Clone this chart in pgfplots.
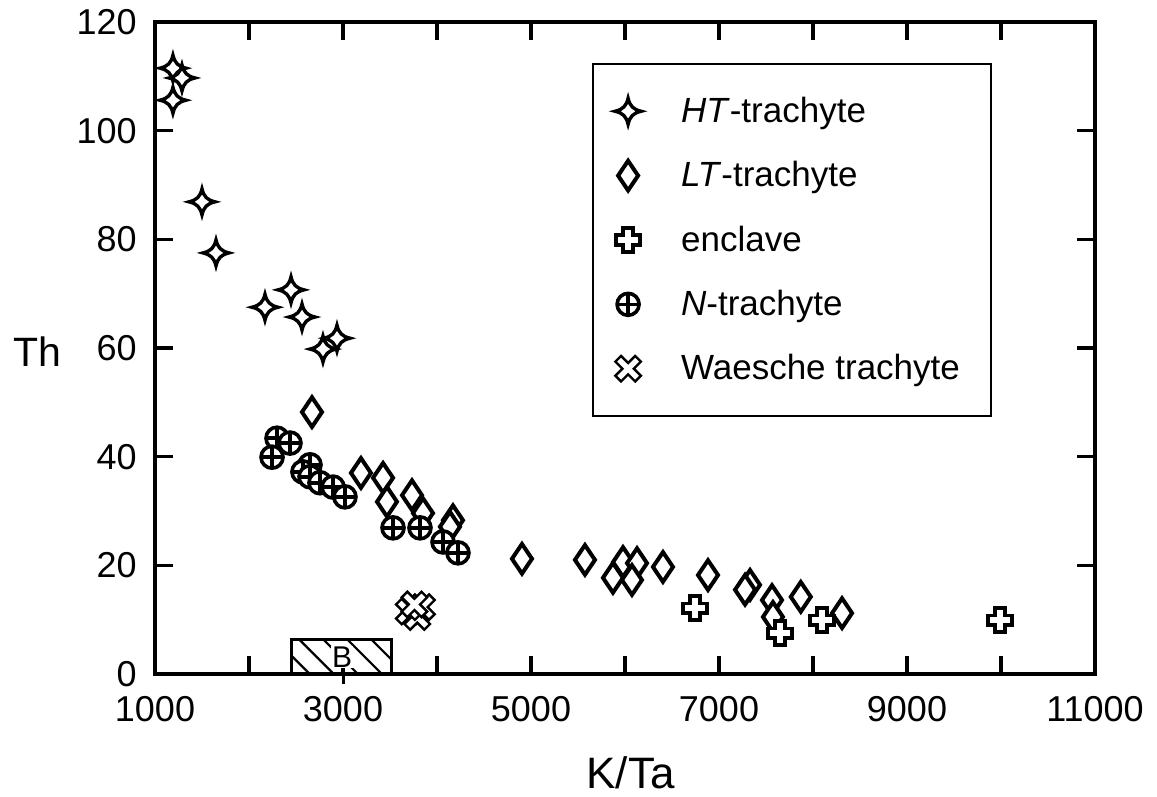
\documentclass[border=0pt]{standalone}
\usepackage{fontspec}
\setmainfont{Liberation Sans}
\usepackage{pgfplots}
\pgfplotsset{compat=1.18}
\usetikzlibrary{patterns.meta}

% 4-point concave star
\pgfdeclareplotmark{star4}{%
  \pgfpathmoveto{\pgfqpoint{0pt}{6.5pt}}%
  \pgfpathcurveto{\pgfqpoint{0.9pt}{2.6pt}}{\pgfqpoint{2.6pt}{0.9pt}}{\pgfqpoint{6.5pt}{0pt}}%
  \pgfpathcurveto{\pgfqpoint{2.6pt}{-0.9pt}}{\pgfqpoint{0.9pt}{-2.6pt}}{\pgfqpoint{0pt}{-6.5pt}}%
  \pgfpathcurveto{\pgfqpoint{-0.9pt}{-2.6pt}}{\pgfqpoint{-2.6pt}{-0.9pt}}{\pgfqpoint{-6.5pt}{0pt}}%
  \pgfpathcurveto{\pgfqpoint{-2.6pt}{0.9pt}}{\pgfqpoint{-0.9pt}{2.6pt}}{\pgfqpoint{0pt}{6.5pt}}%
  \pgfpathclose
  \pgfusepathqfillstroke}
% tall diamond
\pgfdeclareplotmark{tdiamond}{%
  \pgfpathmoveto{\pgfqpoint{0pt}{7.4pt}}%
  \pgfpathlineto{\pgfqpoint{5pt}{0pt}}%
  \pgfpathlineto{\pgfqpoint{0pt}{-7.4pt}}%
  \pgfpathlineto{\pgfqpoint{-5pt}{0pt}}%
  \pgfpathclose
  \pgfusepathqfillstroke}
% hollow plus
\pgfdeclareplotmark{hplus}{%
  \pgfpathmoveto{\pgfqpoint{-2.4pt}{6pt}}%
  \pgfpathlineto{\pgfqpoint{2.4pt}{6pt}}%
  \pgfpathlineto{\pgfqpoint{2.4pt}{2.4pt}}%
  \pgfpathlineto{\pgfqpoint{6pt}{2.4pt}}%
  \pgfpathlineto{\pgfqpoint{6pt}{-2.4pt}}%
  \pgfpathlineto{\pgfqpoint{2.4pt}{-2.4pt}}%
  \pgfpathlineto{\pgfqpoint{2.4pt}{-6pt}}%
  \pgfpathlineto{\pgfqpoint{-2.4pt}{-6pt}}%
  \pgfpathlineto{\pgfqpoint{-2.4pt}{-2.4pt}}%
  \pgfpathlineto{\pgfqpoint{-6pt}{-2.4pt}}%
  \pgfpathlineto{\pgfqpoint{-6pt}{2.4pt}}%
  \pgfpathlineto{\pgfqpoint{-2.4pt}{2.4pt}}%
  \pgfpathclose
  \pgfusepathqfillstroke}
% hollow X
\pgfdeclareplotmark{hx}{%
  \pgftransformrotate{45}%
  \pgfpathmoveto{\pgfqpoint{-2pt}{7pt}}%
  \pgfpathlineto{\pgfqpoint{2pt}{7pt}}%
  \pgfpathlineto{\pgfqpoint{2pt}{2pt}}%
  \pgfpathlineto{\pgfqpoint{7pt}{2pt}}%
  \pgfpathlineto{\pgfqpoint{7pt}{-2pt}}%
  \pgfpathlineto{\pgfqpoint{2pt}{-2pt}}%
  \pgfpathlineto{\pgfqpoint{2pt}{-7pt}}%
  \pgfpathlineto{\pgfqpoint{-2pt}{-7pt}}%
  \pgfpathlineto{\pgfqpoint{-2pt}{-2pt}}%
  \pgfpathlineto{\pgfqpoint{-7pt}{-2pt}}%
  \pgfpathlineto{\pgfqpoint{-7pt}{2pt}}%
  \pgfpathlineto{\pgfqpoint{-2pt}{2pt}}%
  \pgfpathclose
  \pgfusepathqfillstroke}
% circle with plus
\pgfdeclareplotmark{cplus}{%
  \pgfpathcircle{\pgfpointorigin}{5.5pt}%
  \pgfusepathqfillstroke
  \pgfpathmoveto{\pgfqpoint{-5.5pt}{0pt}}\pgfpathlineto{\pgfqpoint{5.5pt}{0pt}}%
  \pgfpathmoveto{\pgfqpoint{0pt}{-5.5pt}}\pgfpathlineto{\pgfqpoint{0pt}{5.5pt}}%
  \pgfusepathqstroke}

\begin{document}
\begin{tikzpicture}
\begin{axis}[
  name=ax,
  scale only axis,
  width=470pt, height=326pt,
  xmin=1000, xmax=11000, ymin=0, ymax=120,
  xtick={1000,3000,...,11000},
  minor xtick={2000,4000,...,10000},
  ytick={0,20,...,120},
  scaled x ticks=false, scaled y ticks=false,
  tick align=inside,
  major tick length=9pt, minor tick length=9pt,
  axis line style={line width=2.2pt},
  every tick/.style={black, line width=1.6pt},
  every minor tick/.style={black, line width=1.6pt},
  /pgf/number format/assume math mode=true,
  /pgf/number format/1000 sep={},
  tick label style={font=\fontsize{18}{21}\selectfont, inner sep=0pt},
  xticklabel style={yshift=-11pt},
  yticklabel style={xshift=-9pt},
  every axis y label/.style={at={(rel axis cs:0,0.494)}, anchor=center, xshift=-59pt, font=\fontsize{20.5}{24}\selectfont},
  every axis x label/.style={at={(rel axis cs:0.506,0)}, anchor=center, yshift=-49.5pt, font=\fontsize{22}{26}\selectfont},
  xlabel={K/Ta}, ylabel={Th},
  clip=false,
  legend style={at={(0.465,0.937)}, anchor=north west, draw=black, line width=1pt,
    font=\fontsize{17.5}{20}\selectfont, inner xsep=11pt, inner ysep=14.5pt,
    row sep=14pt, column sep=18pt, cells={anchor=west}},
  legend cell align=left,
]
\addplot[only marks, mark=star4, mark options={fill=white, draw=black, line width=1.7pt}]
coordinates {(1191,111.5)(1287,109.7)(1191,105.6)(1500,86.9)(1649,77.5)(2447,70.7)(2170,67.5)(2564,65.7)(2787,59.8)(2936,61.8)};
\addlegendentry{\makebox[142pt][l]{\textit{HT}-trachyte}}

\addplot[only marks, mark=tdiamond, mark options={fill=white, draw=black, line width=2pt}]
coordinates {(2670,48.2)(3191,37.0)(3426,36.1)(3468,31.7)(3734,32.9)(3851,29.6)(4170,28.3)(4138,27.1)
(4904,21.2)(5574,21.0)(5979,20.6)(5872,17.7)(6128,20.4)(6074,17.3)(6404,19.7)(6883,18.2)
(7330,16.4)(7277,15.5)(7564,13.6)(7574,10.5)(7870,14.2)(8309,11.2)};
\addlegendentry{\textit{LT}-trachyte}

\addplot[only marks, mark=hplus, mark options={fill=white, draw=black, line width=1.8pt}]
coordinates {(6745,12.1)(7649,7.5)(8096,9.9)(9989,9.9)};
\addlegendentry{enclave}

\addplot[only marks, mark=cplus, mark options={fill=white, draw=black, line width=1.8pt}]
coordinates {(2298,43.4)(2436,42.5)(2245,39.9)(2649,38.5)(2574,37.2)(2649,36.3)(2755,35.2)(2894,34.4)(3021,32.6)
(3532,26.9)(3819,26.9)(4064,24.3)(4223,22.3)};
\addlegendentry{\textit{N}-trachyte}

\addplot[only marks, mark=hx, mark options={fill=white, draw=black, line width=1.2pt}]
coordinates {(3700,11.5)(3790,10.5)(3840,12.3)(3760,12.8)};
\addlegendentry{Waesche trachyte}

\draw[line width=1.5pt, pattern={Lines[angle=-45, distance=8.5pt, line width=1.1pt]}]
  (axis cs:2457,0) rectangle (axis cs:3521,6.3);
\node[fill=white, inner sep=0.5pt, font=\fontsize{15}{17}\selectfont] at (axis cs:2990,3.1) {B};
\draw[line width=1.5pt] (axis cs:3000,0) -- ++(0pt,-5pt);
\end{axis}
\pgfresetboundingbox
\useasboundingbox (ax.south west) ++(-77.5pt,-61.5pt) rectangle ++(578.5pt,398.5pt);
\end{tikzpicture}
\end{document}
